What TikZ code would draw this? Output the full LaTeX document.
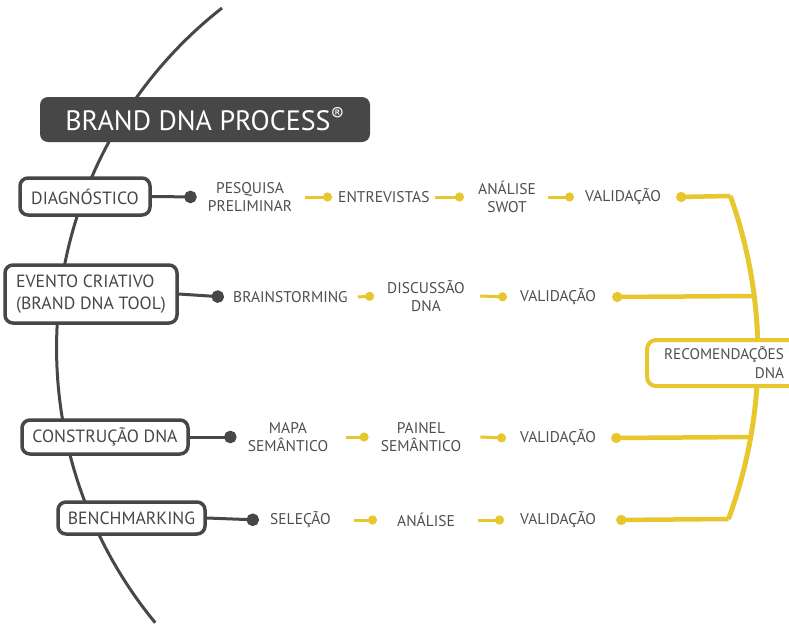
\documentclass[tikz,border=0pt]{standalone}
\usepackage{fontspec}
\setmainfont{PT Sans}
\usetikzlibrary{arrows.meta}
\definecolor{dnagray}{HTML}{474747}
\definecolor{dnatext}{HTML}{4E4E4E}
\definecolor{dnayellow}{HTML}{E8C72E}

\begin{document}
\begin{tikzpicture}[
      x=1pt, y=-1pt,
      every node/.style={inner sep=0pt},
      titlebox/.style={fill=dnagray, text=white, rounded corners=8pt,
        font=\fontsize{28}{30}\selectfont},
      stagebox/.style={draw=dnagray, line width=3.5pt, fill=white,
        rounded corners=8pt, text=dnagray, font=\fontsize{17.7}{22}\selectfont},
      recbox/.style={draw=dnayellow, line width=4pt, fill=white,
        rounded corners=9pt, text=dnatext, align=right,
        font=\fontsize{15.3}{19}\selectfont},
      steplabel/.style={text=dnatext, align=center,
        font=\fontsize{15.5}{18.5}\selectfont},
      glink/.style={dnagray, line width=3pt, -{Circle[length=12.5pt]}},
      ylink/.style={dnayellow, line width=3pt, -{Circle[length=9pt]}},
      yfeed/.style={dnayellow, line width=4.5pt, {Circle[length=10pt]}-}
    ]
  \useasboundingbox (0,0) rectangle (789,627);

  % big grey arc behind the stages
  \draw[dnagray, line width=3pt] (222,8)
    arc[start angle=-128.1, end angle=-219.5, radius=432];

  % yellow arc gathering the validations
  \coordinate (r1) at (730.3,196);
  \coordinate (r2) at (754,296);
  \coordinate (r3) at (751,437);
  \coordinate (r4) at (728.5,519);
  \draw[dnayellow, line width=5pt] (r1)
    arc[start angle=-19.73, end angle=20.38, radius=471];

  \node[titlebox, minimum width=330pt, minimum height=45pt] (title)
    at (205,119.5) {BRAND DNA PROCESS\textsuperscript{®}};

  % stages
  \node[stagebox, minimum width=130pt, minimum height=37pt] (diag)
    at (85,196.5) {DIAGNÓSTICO};
  \node[stagebox, minimum width=172pt, minimum height=58pt, align=left] (evento)
    at (91,294) {EVENTO CRIATIVO\\(BRAND DNA TOOL)};
  \node[stagebox, minimum width=166pt, minimum height=34pt] (constr)
    at (105,437) {CONSTRUÇÃO DNA};
  \node[stagebox, minimum width=147pt, minimum height=32pt] (bench)
    at (131.5,518) {BENCHMARKING};

  \node[recbox, inner xsep=17pt, inner ysep=7pt, text width=120pt,
    anchor=north west] (recom) at (645,338) {RECOMENDAÇÕES\\DNA};

  % row 1
  \node[steplabel] (pesq) at (250,197) {PESQUISA\\PRELIMINAR};
  \node[steplabel, anchor=west] (entr) at (338,197) {ENTREVISTAS};
  \node[steplabel] (swot) at (507,197) {ANÁLISE\\SWOT};
  \node[steplabel, anchor=west] (val1) at (585,197) {VALIDAÇÃO};
  \draw[glink] (diag.east) -- ([xshift=-11pt]pesq.west);
  \draw[ylink] ([xshift=13pt]pesq.east) -- ([xshift=-6pt]entr.west);
  \draw[ylink] ([xshift=5pt]entr.east) -- ([xshift=-14pt]swot.west);
  \draw[ylink] ([xshift=12pt]swot.east) -- ([xshift=-11pt]val1.west);
  \draw[yfeed] ([xshift=15pt]val1.east) -- (r1);

  % row 2
  \node[steplabel, anchor=west] (brain) at (233,297) {BRAINSTORMING};
  \node[steplabel] (disc) at (426,296) {DISCUSSÃO\\DNA};
  \node[steplabel, anchor=west] (val2) at (520,297) {VALIDAÇÃO};
  \draw[glink] (evento.east) -- ([xshift=-9pt]brain.west);
  \draw[ylink] ([xshift=10pt]brain.east) -- ([xshift=-13pt]disc.west);
  \draw[ylink] ([xshift=15pt]disc.east) -- ([xshift=-13pt]val2.west);
  \draw[yfeed] ([xshift=16pt]val2.east) -- (r2);

  % row 3
  \node[steplabel] (mapa) at (288,437) {MAPA\\SEMÂNTICO};
  \node[steplabel] (painel) at (421,437) {PAINEL\\SEMÂNTICO};
  \node[steplabel, anchor=west] (val3) at (520,438) {VALIDAÇÃO};
  \draw[glink] (constr.east) -- ([xshift=-11pt]mapa.west);
  \draw[ylink] ([xshift=18pt]mapa.east) -- ([xshift=-12pt]painel.west);
  \draw[ylink] ([xshift=19pt]painel.east) -- ([xshift=-14pt]val3.west);
  \draw[yfeed] ([xshift=15pt]val3.east) -- (r3);

  % row 4
  \node[steplabel, anchor=west] (sel) at (270,520) {SELEÇÃO};
  \node[steplabel, anchor=west] (anal) at (397,520) {ANÁLISE};
  \node[steplabel, anchor=west] (val4) at (520,520) {VALIDAÇÃO};
  \draw[glink] (bench.east) -- ([xshift=-11pt]sel.west);
  \draw[ylink] ([xshift=23pt]sel.east) -- ([xshift=-20pt]anal.west);
  \draw[ylink] ([xshift=23pt]anal.east) -- ([xshift=-16pt]val4.west);
  \draw[yfeed] ([xshift=20pt]val4.east) -- (r4);
\end{tikzpicture}
\end{document}
